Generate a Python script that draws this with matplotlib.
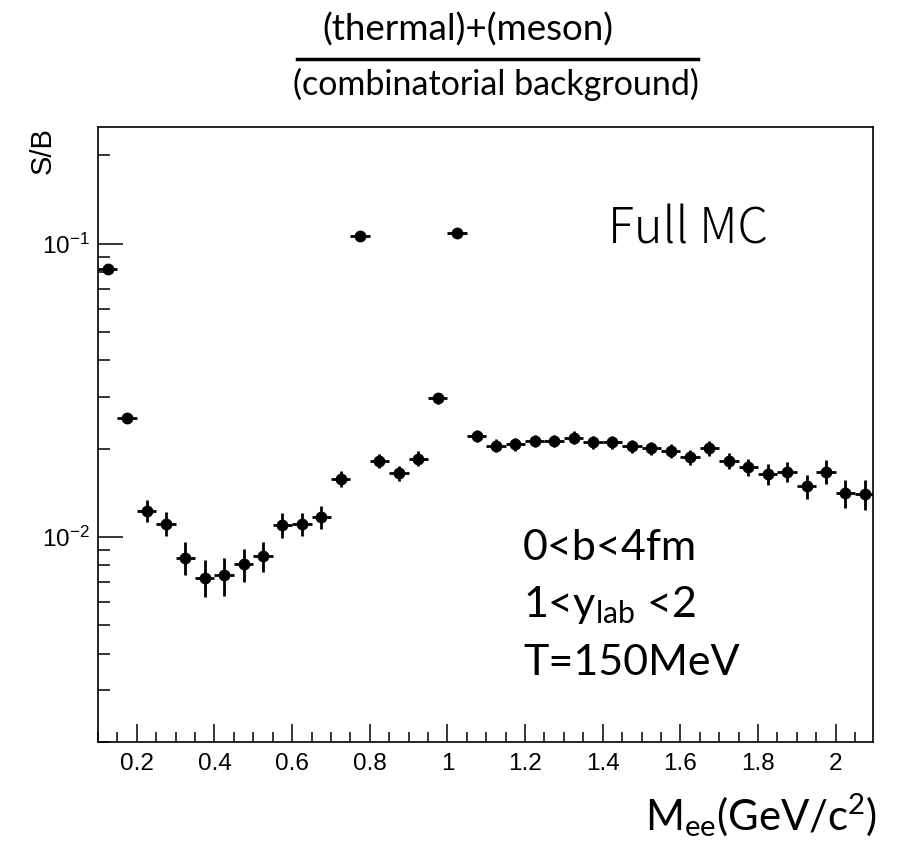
import matplotlib
matplotlib.use("Agg")
import matplotlib.pyplot as plt
from matplotlib.ticker import MultipleLocator, LogLocator, NullFormatter, FuncFormatter
from matplotlib.lines import Line2D

# bin centres (GeV/c^2) and S/B values
mass = [0.125, 0.175, 0.225, 0.275, 0.325, 0.375, 0.425, 0.475, 0.525, 0.575,
        0.625, 0.675, 0.725, 0.775, 0.825, 0.875, 0.925, 0.975, 1.025, 1.075,
        1.125, 1.175, 1.225, 1.275, 1.325, 1.375, 1.425, 1.475, 1.525, 1.575,
        1.625, 1.675, 1.725, 1.775, 1.825, 1.875, 1.925, 1.975, 2.025, 2.075]
sb = [0.0821, 0.0254, 0.0123, 0.0111, 0.0085, 0.00727, 0.0074, 0.00806, 0.0086, 0.0110,
      0.0111, 0.0117, 0.0158, 0.106, 0.0182, 0.0165, 0.0185, 0.0297, 0.109, 0.0221,
      0.0205, 0.0207, 0.0213, 0.0213, 0.0218, 0.0210, 0.0210, 0.0204, 0.0201, 0.0197,
      0.0187, 0.0201, 0.0182, 0.0173, 0.0164, 0.0167, 0.0149, 0.0167, 0.0141, 0.0140]
sb_err = [0.0025, 0.0010, 0.00105, 0.00103, 0.0011, 0.00105, 0.0011, 0.00105, 0.00103, 0.0011,
          0.0010, 0.00105, 0.00095, 0.003, 0.0010, 0.00094, 0.0011, 0.0012, 0.0033, 0.0011,
          0.00105, 0.00105, 0.00105, 0.00105, 0.0011, 0.00105, 0.00105, 0.00105, 0.00105, 0.00105,
          0.00107, 0.0012, 0.0012, 0.00112, 0.00134, 0.00134, 0.0014, 0.0016, 0.0015, 0.0016]
bin_half = 0.025

plt.rcParams['mathtext.default'] = 'regular'
plt.rcParams['font.family'] = ['Liberation Sans', 'DejaVu Sans']

fig = plt.figure(figsize=(9.04, 8.42), dpi=100)
ax = fig.add_axes([0.1084, 0.1188, 0.8568, 0.7304])

ax.errorbar(mass, sb, xerr=bin_half, yerr=sb_err, fmt='o', color='black',
            ms=7.5, elinewidth=2.0, capsize=0)

ax.set_yscale('log')
ax.set_xlim(0.1, 2.095)
ax.set_ylim(0.002, 0.25)

ax.xaxis.set_major_locator(MultipleLocator(0.2))
ax.xaxis.set_minor_locator(MultipleLocator(0.05))
ax.xaxis.set_major_formatter(FuncFormatter(lambda v, p: f"{v:g}"))
ax.yaxis.set_major_locator(LogLocator(base=10))
ax.yaxis.set_minor_locator(LogLocator(base=10, subs=range(2, 10)))
ax.yaxis.set_minor_formatter(NullFormatter())

ax.tick_params(axis='both', which='both', direction='in', width=1.1,
               top=False, right=False, labelsize=17.5)
ax.tick_params(axis='x', which='major', length=13, pad=8)
ax.tick_params(axis='x', which='minor', length=7)
ax.tick_params(axis='y', which='major', length=18, pad=6)
ax.tick_params(axis='y', which='minor', length=8.6)
for s in ax.spines.values():
    s.set_linewidth(1.2)

fig.text(0.047, 0.849, "S/B", rotation=90, ha='center', va='top', fontsize=21)

# title as a fraction
fig.text(0.5177, 0.9513, "(thermal)+(meson)", ha='center', va='baseline',
         fontsize=26.5, family='Lato')
fig.text(0.549, 0.8872, "(combinatorial background)", ha='center', va='baseline',
         fontsize=24.5, family='Lato')
fig.add_artist(Line2D([0.3285, 0.772], [0.93, 0.93], color='black', lw=2.5))

fig.text(0.6726, 0.7114, "Full MC", ha='left', va='baseline', fontsize=35,
         family=['Noto Sans CJK JP', 'DejaVu Sans'], fontweight='light')
fig.text(0.5785, 0.3349, "0<b<4fm", ha='left', va='baseline', fontsize=31, family='Lato')
fig.text(0.5785, 0.2672, "1<y$_{lab}$ <2", ha='left', va='baseline', fontsize=31, family='Lato')
fig.text(0.5785, 0.1983, "T=150MeV", ha='left', va='baseline', fontsize=31, family='Lato')
fig.text(0.7135, 0.0143, "M$_{ee}$(GeV/c$^{2}$)", ha='left', va='baseline',
         fontsize=30.2, family='Lato')

fig.savefig("out.png", dpi=100)
